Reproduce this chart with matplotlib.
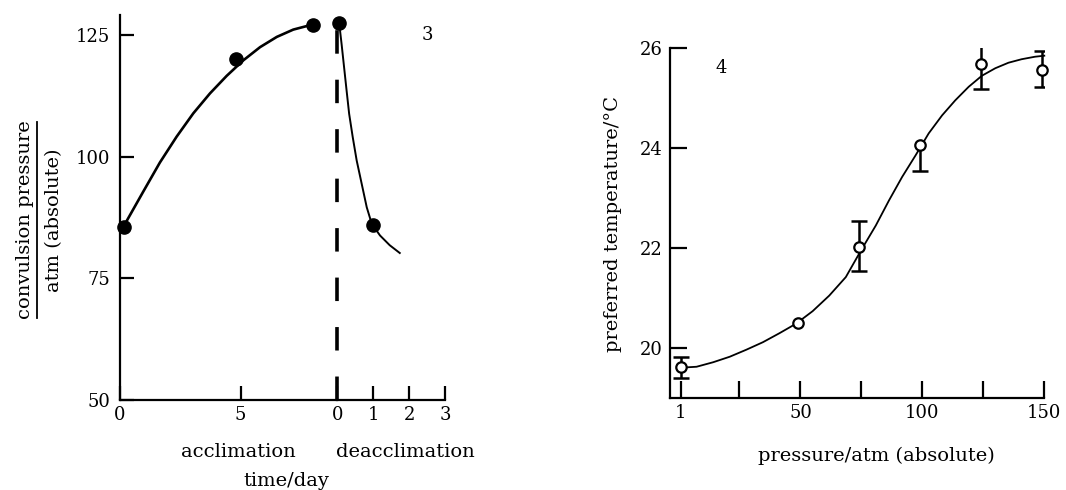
import numpy as np
import matplotlib
matplotlib.use("Agg")
import matplotlib.pyplot as plt
from matplotlib.lines import Line2D

plt.rcParams['font.family'] = ['DejaVu Serif', 'DejaVu Sans']

# panel 3: convulsion pressure, acclimation / deacclimation
acc_day = [0.2, 4.8, 8.0]
acc_p = [85.5, 120.0, 127.0]
deacc_day = [0.056, 1.0]
deacc_p = [127.5, 86.0]

# fitted curves
acc_curve_day = [0.23, 0.98, 1.67, 2.36, 3.05, 3.74, 4.43, 5.12, 5.81, 6.50, 7.18, 7.87]
acc_curve_p = [86.2, 92.8, 98.8, 104.1, 108.9, 113.0, 116.6, 119.8, 122.5, 124.6, 126.1, 127.0]
deacc_curve_day = [0.056, 0.12, 0.19, 0.26, 0.33, 0.43, 0.54, 0.68, 0.82, 0.96, 1.19, 1.46, 1.74]
deacc_curve_p = [127.2, 123.1, 118.3, 113.5, 108.8, 104.0, 99.2, 94.4, 89.6, 86.2, 83.8, 81.8, 80.2]

acc_ticks = [0, 5]
deacc_ticks = [0, 1, 2, 3]
p_ticks = [50, 75, 100, 125]

# panel 4: preferred temperature vs pressure
press = [1, 49, 74, 99, 124, 149]
temp = [19.62, 20.5, 22.03, 24.05, 25.67, 25.55]
err_lo = [0.22, 0.0, 0.49, 0.51, 0.50, 0.34]
err_hi = [0.20, 0.0, 0.50, 0.0, 0.50, 0.39]

curve_press = [0.6, 7.4, 14.2, 21.0, 27.8, 34.6, 41.4, 48.2, 55.0, 61.8, 68.6, 74.8,
               80.9, 86.3, 91.7, 97.2, 102.6, 108.1, 113.5, 119.0, 124.4, 129.9,
               135.3, 140.7, 146.2, 150.0]
curve_temp = [19.61, 19.63, 19.72, 19.83, 19.97, 20.12, 20.30, 20.49, 20.74, 21.05,
              21.42, 21.95, 22.45, 22.95, 23.42, 23.85, 24.29, 24.65, 24.95, 25.22,
              25.44, 25.59, 25.70, 25.77, 25.82, 25.84]

press_ticks = [1, 50, 100, 150]
press_minor = [25, 75, 125]
temp_ticks = [20, 22, 24, 26]

W, H = 1066, 490
fig = plt.figure(figsize=(W / 100, H / 100), dpi=100)


def fx(px):
    return px / W


def fy(py):
    return 1 - py / H


tick_fs = 13
lab_fs = 14

# ---- left panel: two joined axes
y0, y1 = 400, 15
ax_a = fig.add_axes([fx(119.5), fy(y0), fx(337.3 - 119.5), (y0 - y1) / H])
ax_d = fig.add_axes([fx(337.3), fy(y0), fx(445 - 337.3), (y0 - y1) / H], sharey=ax_a)

for ax in (ax_a, ax_d):
    for s in ('top', 'right'):
        ax.spines[s].set_visible(False)
    ax.spines['bottom'].set_linewidth(1.6)
    ax.spines['left'].set_linewidth(1.6)
    ax.set_facecolor('none')
    ax.tick_params(direction='in', length=10, width=1.6, labelsize=tick_fs, pad=4)
    ax.tick_params(axis='y', pad=6.5)
ax_d.spines['left'].set_visible(False)
ax_d.tick_params(axis='y', left=False, labelleft=False)

ax_a.set_ylim(50, 129.1)
ax_a.set_yticks(p_ticks)
ax_a.set_xlim(0, 9)
ax_a.set_xticks(acc_ticks)
ax_d.set_xlim(0, 3)
ax_d.set_xticks(deacc_ticks)

ax_a.plot(acc_curve_day, acc_curve_p, color='black', lw=1.9, solid_joinstyle='round')
ax_a.plot(acc_day, acc_p, 'o', color='black', ms=9.5, clip_on=False, zorder=5)

ax_d.plot(deacc_curve_day, deacc_curve_p, color='black', lw=1.4, solid_joinstyle='round')
ax_d.plot(deacc_day, deacc_p, 'o', color='black', ms=9.5, clip_on=False, zorder=5)
ax_d.plot([deacc_ticks[0], deacc_ticks[0]], [50, 129.1], color='black', lw=2.6,
          linestyle=(0, (6.5, 7.2)), clip_on=False)

ax_d.text(2.5, 125, '3', fontsize=tick_fs, ha='center', va='center')

fig.text(fx(238), fy(452), 'acclimation', fontsize=lab_fs, ha='center', va='center')
fig.text(fx(405), fy(452), 'deacclimation', fontsize=lab_fs, ha='center', va='center')
fig.text(fx(286), fy(481), 'time/day', fontsize=lab_fs, ha='center', va='center')

fig.text(fx(25), fy(220), 'convulsion pressure', fontsize=lab_fs, rotation=90,
         ha='center', va='center')
fig.text(fx(54), fy(220), 'atm (absolute)', fontsize=lab_fs, rotation=90,
         ha='center', va='center')
fig.add_artist(Line2D([fx(37), fx(37)], [fy(318), fy(122)], color='black', lw=1.3,
                      transform=fig.transFigure))

# ---- right panel
ax = fig.add_axes([fx(670), fy(398.3), fx(1044.3 - 670), (398.3 - 47.7) / H])
for s in ('top', 'right'):
    ax.spines[s].set_visible(False)
ax.spines['bottom'].set_linewidth(1.6)
ax.spines['left'].set_linewidth(1.6)
ax.set_facecolor('none')
ax.set_xlim(-3.5, 150)
ax.set_ylim(19.0, 26)
ax.set_xticks(press_ticks)
ax.set_xticks(press_minor, minor=True)
ax.set_yticks(temp_ticks)
ax.tick_params(which='both', direction='in', length=12, width=1.6, labelsize=tick_fs)
ax.tick_params(axis='x', pad=4)
ax.tick_params(axis='y', pad=5)

ax.plot(curve_press, curve_temp, color='black', lw=1.3, zorder=2, clip_on=False)
for x, y, lo, hi in zip(press, temp, err_lo, err_hi):
    if lo == 0 and hi == 0:
        continue
    line, caps, bars = ax.errorbar([x], [y], yerr=[[lo], [hi]], fmt='none',
                                   ecolor='black', elinewidth=1.8, capsize=6,
                                   capthick=1.8, zorder=3)
    for c in caps:
        if hi == 0 and abs(c.get_ydata()[0] - y) < 1e-9:
            c.set_visible(False)
ax.plot(press, temp, 'o', ms=7.5, mfc='white', mec='black', mew=1.6, zorder=4,
        clip_on=False)

ax.text(17.6, 25.59, '4', fontsize=tick_fs, ha='center', va='center')
ax.set_xlabel('pressure/atm (absolute)', fontsize=lab_fs)
ax.xaxis.set_label_coords((876.7 - 670) / (1044.3 - 670), (398.3 - 447) / (398.3 - 47.7))
fig.text(fx(613), fy(224), 'preferred temperature/°C', fontsize=lab_fs, rotation=90,
         ha='center', va='center')

fig.savefig('out.png', dpi=100)
